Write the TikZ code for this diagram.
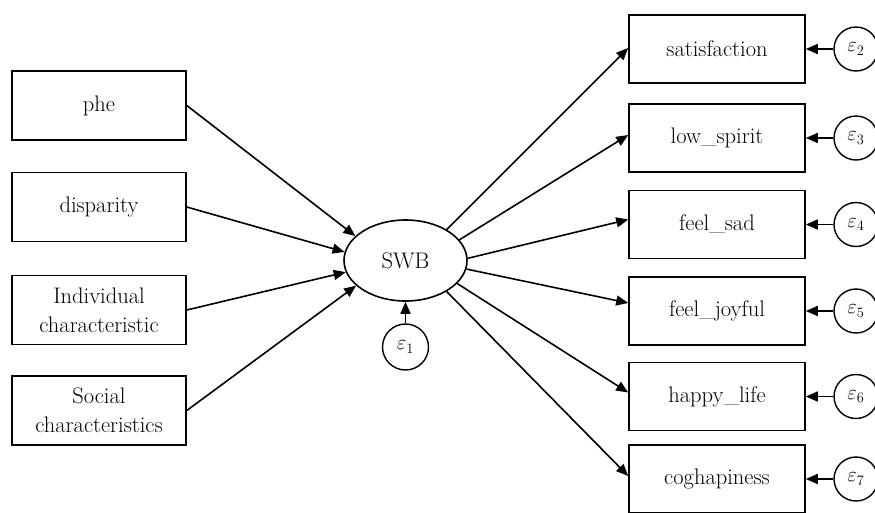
\documentclass[tikz,border=0pt]{standalone}
\usepackage{fontspec}
\usetikzlibrary{arrows.meta,shapes.geometric,calc}
\begin{document}
\begin{tikzpicture}[x=1pt,y=-1pt,
  every node/.style={font=\fontsize{22.5}{29}\selectfont},
  box/.style={draw,line width=1.6pt,minimum width=174pt,minimum height=69pt,inner sep=0pt,align=center},
  rbox/.style={draw,line width=1.6pt,minimum width=176pt,minimum height=68pt,inner sep=0pt,align=center},
  err/.style={draw,circle,line width=1.4pt,minimum size=44pt,inner sep=0pt,font=\fontsize{20.74}{24}\selectfont},
  arr/.style={line width=1.6pt,-{Triangle[length=12pt,width=10pt]}}]
\useasboundingbox (0,0) rectangle (875,512);
% left boxes
\node[box] (phe) at (99,105.5) {phe};
\node[box] (dis) at (99,207) {disparity};
\node[box] (ind) at (99,310) {Individual\\characteristic};
\node[box] (soc) at (99,410.5) {Social\\characteristics};
% latent
\node[draw,ellipse,line width=1.6pt,minimum width=123pt,minimum height=81pt,inner sep=0pt] (swb) at (405.5,260.5) {SWB};
\node[err,minimum size=46pt] (e1) at (405.5,347) {$\varepsilon_1$};
% right boxes
\node[rbox] (sat) at (717,49) {satisfaction};
\node[rbox] (low) at (717,138) {low\_spirit};
\node[rbox] (sad) at (717,224.5) {feel\_sad};
\node[rbox] (joy) at (717,311) {feel\_joyful};
\node[rbox] (hap) at (717,396.5) {happy\_life};
\node[rbox] (cog) at (717,479) {coghapiness};
% errors right
\node[err] (e2) at (856,49) {$\varepsilon_2$};
\node[err] (e3) at (856,138) {$\varepsilon_3$};
\node[err] (e4) at (856,224.5) {$\varepsilon_4$};
\node[err] (e5) at (856,311) {$\varepsilon_5$};
\node[err] (e6) at (856,396.5) {$\varepsilon_6$};
\node[err] (e7) at (856,479) {$\varepsilon_7$};
% arrows in
\draw[arr] (phe.east) -- (swb.154);
\draw[arr] (dis.east) -- (swb.172);
\draw[arr] (ind.east) -- (swb.191);
\draw[arr] (soc.east) -- (swb.207);
\draw[arr] (e1) -- (swb);
% arrows out
\draw[arr] (swb.37) -- ($(sat.west)+(0,-1)$);
\draw[arr] (swb.21) -- ($(low.west)+(0,-3)$);
\draw[arr] (swb.2) -- ($(sad.west)+(0,-5)$);
\draw[arr] (swb.-8) -- ($(joy.west)+(0,-8)$);
\draw[arr] (swb.-24) -- ($(hap.west)+(0,-4)$);
\draw[arr] (swb.-37) -- ($(cog.west)+(0,-3)$);
% error arrows
\foreach \e/\b in {e2/sat,e3/low,e4/sad,e5/joy,e6/hap,e7/cog}
  \draw[arr] (\e) -- (\b);
\end{tikzpicture}
\end{document}
